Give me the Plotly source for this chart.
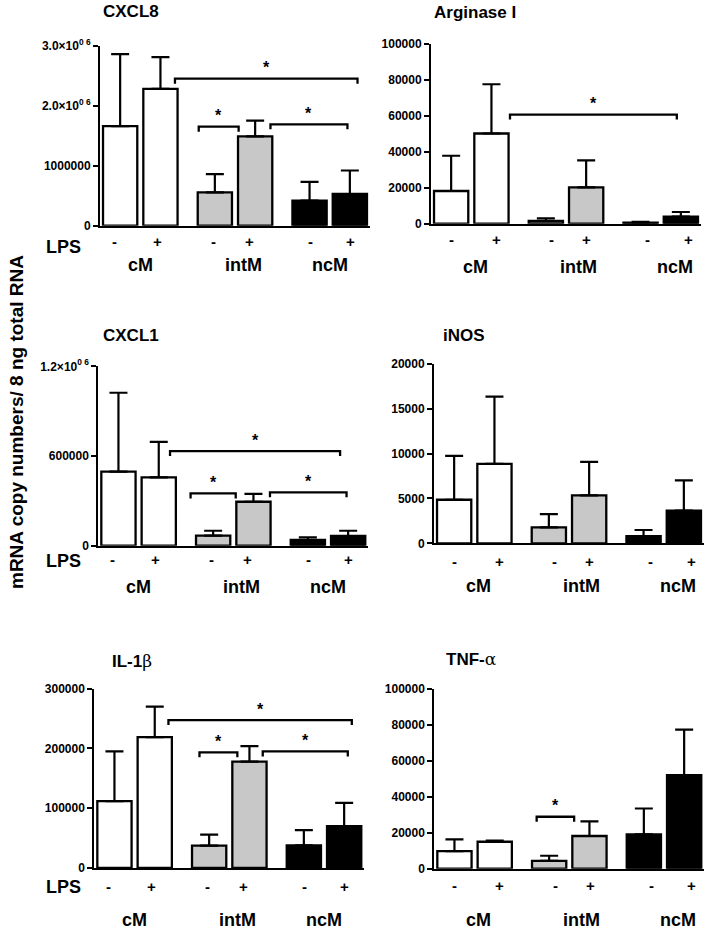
import plotly.graph_objects as go

# ---------------- data ----------------
genes = ["CXCL8", "Arginase I", "CXCL1", "iNOS", "IL-1β", "TNF-α"]
groups = ["cM", "intM", "ncM"]
lps_signs = ["-", "+", "-", "+", "-", "+"]

cxcl8_mean = [1.66e6, 2.28e6, 0.557e6, 1.49e6, 0.417e6, 0.528e6]
cxcl8_err = [1.20e6, 0.53e6, 0.303e6, 0.26e6, 0.313e6, 0.392e6]

arg1_mean = [18200, 50200, 1500, 20200, 600, 3900]
arg1_err = [19600, 27400, 1500, 15000, 400, 2600]

cxcl1_mean = [495000, 457000, 67000, 294000, 38000, 65000]
cxcl1_err = [528000, 237000, 33000, 52000, 18000, 35000]

inos_mean = [4850, 8850, 1780, 5330, 810, 3630]
inos_err = [4890, 7480, 1480, 3740, 670, 3370]

il1b_mean = [112000, 219000, 37300, 178000, 38000, 70200]
il1b_err = [83000, 51000, 18400, 26000, 25500, 38800]

tnfa_mean = [9800, 15000, 4300, 18200, 19100, 52000]
tnfa_err = [6500, 600, 2900, 8100, 14400, 25400]

cxcl8_ticks = [0, 1e6, 2e6, 3e6]
cxcl8_ticktext = ["0", "1000000", "2.0×10<sup>0 6</sup>", "3.0×10<sup>0 6</sup>"]
arg1_ticks = [0, 20000, 40000, 60000, 80000, 100000]
cxcl1_ticks = [0, 600000, 1.2e6]
cxcl1_ticktext = ["0", "600000", "1.2×10<sup>0 6</sup>"]
inos_ticks = [0, 5000, 10000, 15000, 20000]
il1b_ticks = [0, 100000, 200000, 300000]
tnfa_ticks = [0, 20000, 40000, 60000, 80000, 100000]

# significance brackets: (x start, x end, y level) in axis units
cxcl8_brackets = [(1.36, 5.89, 2.45e6), (1.95, 2.94, 1.65e6), (3.73, 5.64, 1.69e6)]
arg1_brackets = [(1.46, 5.60, 60700)]
cxcl1_brackets = [(1.28, 5.50, 633000), (1.79, 2.91, 350000), (3.76, 5.66, 357000)]
inos_brackets = []
il1b_brackets = [(1.34, 5.89, 247500), (2.11, 3.05, 193500), (3.68, 5.79, 195000)]
tnfa_brackets = [(2.04, 2.97, 28900)]

y_title = "mRNA copy numbers/ 8 ng total RNA"

# ---------------- layout / style ----------------
W, H = 708, 930
FONT = "Liberation Sans, Arial, sans-serif"
bar_x = [0, 1, 2.35, 3.35, 4.7, 5.7]
bar_colors = ["white", "white", "#c8c8c8", "#c8c8c8", "black", "black"]
sign_x_left = [-0.15, 0.92, 2.32, 3.2, 4.72, 5.71]
sign_x_right = [0.0, 1.12, 2.5, 3.37, 4.88, 5.88]
group_x_left = [0.5, 3.05, 5.2]
group_x_right = [0.6, 3.15, 5.55]
AXW = 270

def serif_greek(name):
    for g in ["β", "α"]:
        if g in name:
            return name.replace(g, "<span style='font-family:DejaVu Serif;font-weight:normal'>%s</span>" % g)
    return name

panels = [
    dict(name=genes[0], mean=cxcl8_mean, err=cxcl8_err, ymax=3e6, tv=cxcl8_ticks, tt=cxcl8_ticktext,
         br=cxcl8_brackets, left=100, top=45.7, bot=225.7, side="L", sign_d=16, grp_d=39, lps_y=247,
         tx=101, ty=11),
    dict(name=genes[1], mean=arg1_mean, err=arg1_err, ymax=100000, tv=arg1_ticks, tt=None,
         br=arg1_brackets, left=431, top=44, bot=223.7, side="R", sign_d=16, grp_d=43, lps_y=None,
         tx=431.7, ty=12),
    dict(name=genes[2], mean=cxcl1_mean, err=cxcl1_err, ymax=1.2e6, tv=cxcl1_ticks, tt=cxcl1_ticktext,
         br=cxcl1_brackets, left=98.3, top=366.3, bot=545.7, side="L", sign_d=14, grp_d=41, lps_y=560.7,
         tx=101, ty=335),
    dict(name=genes[3], mean=inos_mean, err=inos_err, ymax=20000, tv=inos_ticks, tt=None,
         br=inos_brackets, left=434, top=363.7, bot=543.3, side="R", sign_d=18, grp_d=43, lps_y=None,
         tx=440.7, ty=335),
    dict(name=genes[4], mean=il1b_mean, err=il1b_err, ymax=300000, tv=il1b_ticks, tt=None,
         br=il1b_brackets, left=94.3, top=688.7, bot=868, side="L", sign_d=18, grp_d=52, lps_y=886.7,
         tx=110, ty=660.7),
    dict(name=genes[5], mean=tnfa_mean, err=tnfa_err, ymax=100000, tv=tnfa_ticks, tt=None,
         br=tnfa_brackets, left=434.3, top=689, bot=868.7, side="R", sign_d=17, grp_d=51, lps_y=None,
         tx=444.3, ty=659.3),
]

fig = go.Figure()
annotations = []
shapes = []
layout_axes = {}

for i, p in enumerate(panels):
    n = i + 1
    xs = "x" if n == 1 else f"x{n}"
    ys = "y" if n == 1 else f"y{n}"
    xk = "xaxis" if n == 1 else f"xaxis{n}"
    yk = "yaxis" if n == 1 else f"yaxis{n}"

    fig.add_trace(go.Bar(
        x=bar_x, y=p["mean"], width=0.85,
        marker=dict(color=bar_colors, line=dict(color="black", width=2.3)),
        error_y=dict(type="data", symmetric=False, array=p["err"], arrayminus=[0] * 6,
                     color="black", thickness=2.2, width=9),
        xaxis=xs, yaxis=ys, showlegend=False, hoverinfo="skip",
    ))

    layout_axes[xk] = dict(
        domain=[p["left"] / W, (p["left"] + AXW) / W], range=[-0.5, 6.2],
        showline=True, linecolor="black", linewidth=2, ticks="", showticklabels=False,
        showgrid=False, zeroline=False, anchor=ys, automargin=False, fixedrange=True,
    )
    ya = dict(
        domain=[1 - p["bot"] / H, 1 - p["top"] / H], range=[0, p["ymax"]],
        showline=True, linecolor="black", linewidth=2, ticks="outside", ticklen=5,
        tickwidth=2, tickcolor="black", showgrid=False, zeroline=False, anchor=xs,
        automargin=False, tickvals=p["tv"], fixedrange=True,
        tickfont=dict(family=FONT, size=12, color="black", weight="bold"),
    )
    if p["tt"] is not None:
        ya["ticktext"] = p["tt"]
    else:
        ya["ticktext"] = [str(int(v)) for v in p["tv"]]
    layout_axes[yk] = ya

    # panel title
    annotations.append(dict(
        text="<b>%s</b>" % serif_greek(p["name"]), x=p["tx"] / W, y=1 - p["ty"] / H,
        xref="paper", yref="paper", xanchor="left", yanchor="middle", showarrow=False,
        font=dict(family=FONT, size=17, color="black"),
    ))

    sx = sign_x_left if p["side"] == "L" else sign_x_right
    gx = group_x_left if p["side"] == "L" else group_x_right
    for s, xv in zip(lps_signs, sx):
        annotations.append(dict(
            text="<b>%s</b>" % s, x=xv, y=0, xref=xs, yref=ys + " domain",
            yshift=-p["sign_d"], xanchor="center", yanchor="middle", showarrow=False,
            font=dict(family=FONT, size=15, color="black"),
        ))
    for g, xv in zip(groups, gx):
        annotations.append(dict(
            text="<b>%s</b>" % g, x=xv, y=0, xref=xs, yref=ys + " domain",
            yshift=-p["grp_d"], xanchor="center", yanchor="middle", showarrow=False,
            font=dict(family=FONT, size=18, color="black"),
        ))
    if p["lps_y"] is not None:
        annotations.append(dict(
            text="<b>LPS</b>", x=63 / W, y=1 - p["lps_y"] / H, xref="paper", yref="paper",
            xanchor="center", yanchor="middle", showarrow=False,
            font=dict(family=FONT, size=18, color="black"),
        ))

    for (x0, x1, yb) in p["br"]:
        shapes.append(dict(
            type="path", xref=xs, yref=ys, ysizemode="pixel", yanchor=yb,
            path=f"M {x0},-5 L {x0},0 L {x1},0 L {x1},-5",
            line=dict(color="black", width=2.3),
        ))
        annotations.append(dict(
            text="<b>*</b>", x=(x0 + x1) / 2, y=yb, xref=xs, yref=ys, yshift=11,
            xanchor="center", yanchor="middle", showarrow=False,
            font=dict(family=FONT, size=16, color="black"),
        ))

annotations.append(dict(
    text="<b>%s</b>" % y_title, x=16 / W, y=1 - 422 / H, xref="paper", yref="paper",
    textangle=-90, xanchor="center", yanchor="middle", showarrow=False,
    font=dict(family=FONT, size=19, color="black"),
))

fig.update_layout(
    width=W, height=H, margin=dict(l=0, r=0, t=0, b=0, autoexpand=False),
    paper_bgcolor="white", plot_bgcolor="white", showlegend=False,
    bargap=0, annotations=annotations, shapes=shapes, **layout_axes,
)

fig.write_html(
    "out.html",
    config={"displayModeBar": False, "staticPlot": True},
    post_script="document.body.style.margin='0';document.body.style.padding='0';"
                "document.body.style.overflow='hidden';",
)
